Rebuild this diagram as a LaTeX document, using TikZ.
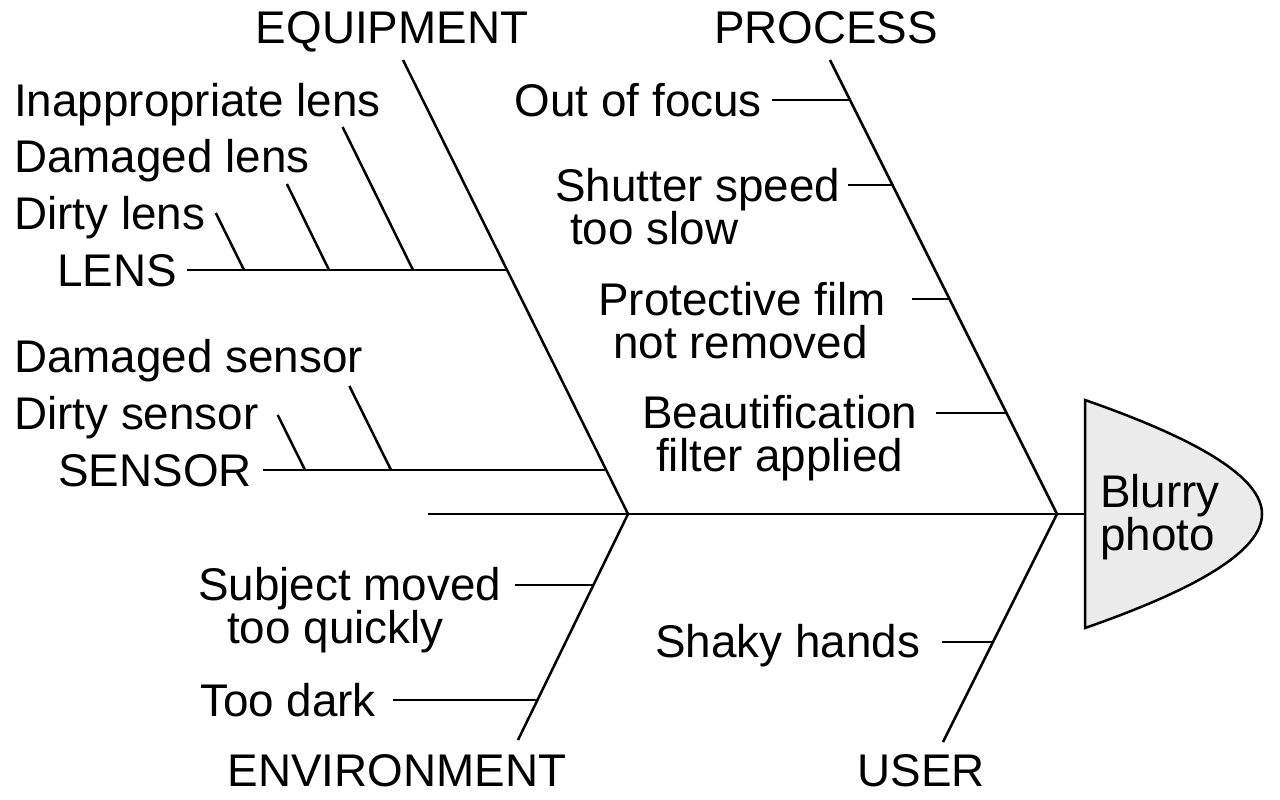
\documentclass[tikz,border=0pt]{standalone}
\usepackage{fontspec}
\setmainfont{Liberation Sans}
\definecolor{headfill}{HTML}{EBEBEB}
\begin{document}
\begin{tikzpicture}[x=1pt,y=-1pt,
  bone/.style={line width=2.5pt},
  lbl/.style={inner sep=0pt, font=\fontsize{45.8}{52}\selectfont, anchor=base west},
  lblr/.style={lbl, anchor=base east},
  lblc/.style={lbl, anchor=base}]
\useasboundingbox (0,0) rectangle (1280,800);
% main coordinates
\coordinate (tail) at (428,514);
\coordinate (j1) at (628,514);
\coordinate (j2) at (1057,514);
\coordinate (headL) at (1085,514);
\coordinate (eqTop) at (403,60);
\coordinate (prTop) at (830,60);
\coordinate (envEnd) at (518,740);
\coordinate (usEnd) at (943,742);
% head
\draw[bone, fill=headfill] (1085,400) .. controls (1200,440) and (1262,478) .. (1262,514)
  .. controls (1262,550) and (1200,588) .. (1085,628) -- cycle;
\node[lbl] (head1) at (1100,507) {Blurry};
\node[lbl] (head2) at (1100,550) {photo};
% spine and main bones
\draw[bone] (tail) -- (headL);
\draw[bone] (eqTop) -- (j1) -- (envEnd);
\draw[bone] (prTop) -- (j2) -- (usEnd);
% category labels
\node[lblc] (equip) at (392,44) {EQUIPMENT};
\node[lblc] (proc) at (826,44) {PROCESS};
\node[lblc] (env) at (397,786) {ENVIRONMENT};
\node[lblc] (user) at (921,786) {USER};
% LENS branch
\coordinate (lensJ) at (507.1,270);
\node[lblr] (lens) at (177,286) {LENS};
\draw[bone] (187,270) -- (lensJ);
\node[lbl] (inap) at (14,116) {Inappropriate lens};
\node[lbl] (damlens) at (14,172) {Damaged lens};
\node[lbl] (dirtylens) at (14,229) {Dirty lens};
\draw[bone] (215.8,213) -- (244,270);
\draw[bone] (286.9,184) -- (329,270);
\draw[bone] (342.6,127) -- (413,270);
% SENSOR branch
\coordinate (sensJ) at (606.2,470);
\node[lblr] (sensor) at (252,486) {SENSOR};
\draw[bone] (263,470) -- (sensJ);
\node[lbl] (damsens) at (14,372) {Damaged sensor};
\node[lbl] (dirtysens) at (14,429) {Dirty sensor};
\draw[bone] (277.7,415) -- (305,470);
\draw[bone] (349.4,386) -- (391,470);
% PROCESS causes
\node[lblr] (focus) at (762,116) {Out of focus};
\draw[bone] (772,100) -- (850,100);
\node[lbl] (shut1) at (555,201) {Shutter speed};
\node[lbl] (shut2) at (570,244) {too slow};
\draw[bone] (848,185) -- (892.5,185);
\node[lbl] (prot1) at (598,315) {Protective film};
\node[lbl] (prot2) at (613,358) {not removed};
\draw[bone] (912,299) -- (949.5,299);
\node[lbl] (beau1) at (642,428) {Beautification};
\node[lbl] (beau2) at (656,471) {filter applied};
\draw[bone] (936,413) -- (1006.5,413);
% ENVIRONMENT causes
\node[lbl] (subj1) at (198,600) {Subject moved};
\node[lbl] (subj2) at (227,643) {too quickly};
\draw[bone] (515,585) -- (593.4,585);
\node[lbl] (dark) at (200,716) {Too dark};
\draw[bone] (393,700) -- (537.5,700);
% USER causes
\node[lbl] (shaky) at (655,657) {Shaky hands};
\draw[bone] (942,642) -- (993,642);
\end{tikzpicture}
\end{document}
